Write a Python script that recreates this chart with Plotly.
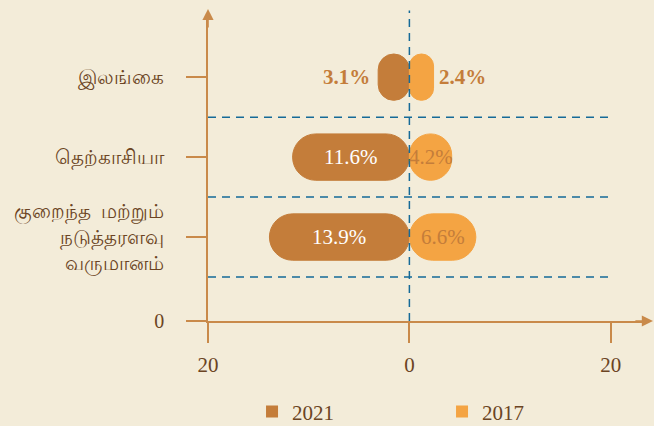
import plotly.graph_objects as go

# data
regions = ["இலங்கை", "தெற்காசியா", "குறைந்த  மற்றும்<br>நடுத்தரளவு<br>வருமானம்"]
region_pos = [3, 2, 1]
v2021 = [3.1, 11.6, 13.9]
v2017 = [2.4, 4.2, 6.6]
x_ticks = [-20, 0, 20]
x_ticktext = ["20", "0", "20"]

BG = "#f3ecd9"
DARK = "#c47d3a"
LIGHT = "#f4a443"
AXIS = "#c98a4a"
TXT = "#6b4423"
DASH = "#156a98"
NUM_FONT = "Liberation Serif"

fig = go.Figure()

fig.add_trace(go.Bar(y=region_pos, x=[-v for v in v2021], orientation="h", base=0,
                     marker=dict(color=DARK, cornerradius="50%", line=dict(width=1, color=DARK)),
                     width=0.58, showlegend=False, hoverinfo="skip"))
fig.add_trace(go.Bar(y=region_pos, x=v2017, orientation="h", base=0,
                     marker=dict(color=LIGHT, cornerradius="50%", line=dict(width=1, color=LIGHT)),
                     width=0.58, showlegend=False, hoverinfo="skip"))

# bar labels: first row sits outside the short bars, others inside
for i, (a, b, yy) in enumerate(zip(v2021, v2017, region_pos)):
    if i == 0:
        fig.add_annotation(x=-a, y=yy, text=f"<b>{a}%</b>", showarrow=False,
                           xanchor="right", xshift=-6,
                           font=dict(family=NUM_FONT, size=21, color=DARK))
        fig.add_annotation(x=b, y=yy, text=f"<b>{b}%</b>", showarrow=False,
                           xanchor="left", xshift=3,
                           font=dict(family=NUM_FONT, size=21, color=DARK))
    else:
        fig.add_annotation(x=-a / 2, y=yy, text=f"{a}%", showarrow=False,
                           font=dict(family=NUM_FONT, size=21, color="white"))
        fig.add_annotation(x=b / 2, y=yy, text=f"{b}%", showarrow=False,
                           font=dict(family=NUM_FONT, size=21, color=DARK))

# legend entries
for name, col in [("2021", DARK), ("2017", LIGHT)]:
    fig.add_trace(go.Scatter(x=[None], y=[None], mode="markers", name=name,
                             marker=dict(symbol="square", size=18, color=col)))

# dashed separators
for yy in [0.5, 1.5, 2.5]:
    fig.add_shape(type="line", x0=-20, x1=20.1, y0=yy, y1=yy, xref="x", yref="y",
                  line=dict(color=DASH, width=1.5, dash="8px,6px"), layer="below")
fig.add_shape(type="line", x0=0, x1=0, y0=0, y1=1.025, xref="x", yref="paper",
              line=dict(color=DASH, width=1.5, dash="8px,6px"), layer="above")

# axis arrows
fig.add_annotation(x=-20, y=1.03, xref="x", yref="paper", ax=0, ay=20,
                   showarrow=True, arrowhead=2, arrowsize=1.4, arrowwidth=1.6,
                   arrowcolor=AXIS, text="")
fig.add_annotation(x=1.025, y=0, xref="paper", yref="paper", ax=-20, ay=0,
                   showarrow=True, arrowhead=2, arrowsize=1.4, arrowwidth=1.6,
                   arrowcolor=AXIS, text="")

fig.update_xaxes(range=[-20, 23.2], tickvals=x_ticks, ticktext=x_ticktext,
                 showgrid=False, zeroline=False, showline=True,
                 linecolor=AXIS, linewidth=1.6,
                 ticks="outside", ticklen=20, tickwidth=2, tickcolor=AXIS,
                 tickfont=dict(family=NUM_FONT, size=21, color=TXT),
                 ticklabelstandoff=4, fixedrange=True)
fig.update_yaxes(range=[-0.05, 3.74],
                 tickvals=[-0.05] + region_pos, ticktext=["0"] + regions,
                 showgrid=False, zeroline=False, showline=True,
                 linecolor=AXIS, linewidth=1.6,
                 ticks="outside", ticklen=20, tickwidth=2, tickcolor=AXIS,
                 tickfont=dict(family="Liberation Serif, Noto Sans", size=20, color=TXT),
                 ticklabelstandoff=18, fixedrange=True)

fig.update_layout(
    width=654, height=426, barmode="overlay",
    paper_bgcolor=BG, plot_bgcolor=BG,
    margin=dict(l=208, r=11, t=18, b=105, autoexpand=False),
    font=dict(family="Liberation Serif, Noto Sans", color=TXT),
    legend=dict(orientation="h", x=0.538, xanchor="center", y=-0.30, yanchor="middle",
                font=dict(family=NUM_FONT, size=21, color=TXT),
                entrywidth=145, itemsizing="constant"),
)

fig.write_html("out.html", config={"displayModeBar": False},
               post_script="document.body.style.margin='0';"
                           "document.body.style.background='" + BG + "';")
